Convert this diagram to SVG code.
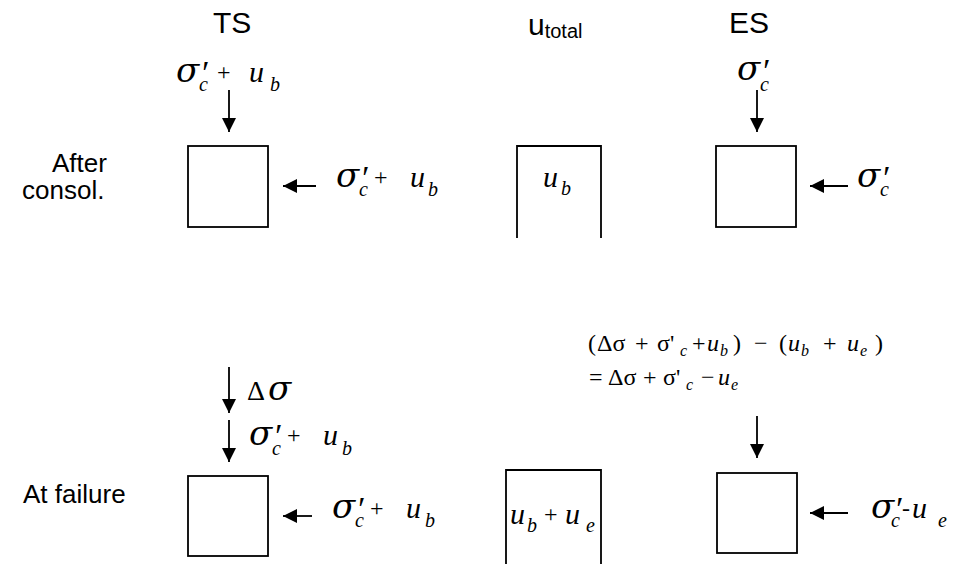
<svg xmlns="http://www.w3.org/2000/svg" width="961" height="564" viewBox="0 0 961 564">
<style>
.box{fill:none;stroke:#000;stroke-width:1.8}
.ln{stroke:#000;stroke-width:1.8;fill:none}
.ttl{font-family:"Liberation Sans",Arial,sans-serif;fill:#000}
.s{font-family:"DejaVu Serif","Liberation Serif",serif;font-style:italic;font-size:34px;fill:#000}
.m{font-family:"Liberation Serif","Times New Roman",serif;font-style:italic;fill:#000}
.r{font-family:"Liberation Serif","Times New Roman",serif;fill:#000}
.pr{font-family:"Liberation Serif","Times New Roman",serif;font-size:34px}
.sub{font-size:20px}
.u{font-size:30px}
.pl{font-family:"Liberation Serif","Times New Roman",serif;font-style:normal;font-size:24px}
</style>
<defs>
<marker id="ah" markerUnits="userSpaceOnUse" markerWidth="16" markerHeight="16" refX="14" refY="7" orient="auto">
<path d="M0,0 L14,7 L0,14 Z" fill="#000"/>
</marker>
</defs>
<rect width="961" height="564" fill="#fff"/>

<g id="titles">
<text class="ttl" x="213" y="33" font-size="30">TS</text>
<text class="ttl" x="528" y="35" font-size="30">u<tspan font-size="20" dy="3">total</tspan></text>
<text class="ttl" x="729" y="33" font-size="30">ES</text>
<text class="ttl" x="52" y="172" font-size="26">After</text>
<text class="ttl" x="22" y="199" font-size="26">consol.</text>
<text class="ttl" x="23" y="503" font-size="26">At failure</text>
</g>

<g id="connectors">
<line class="ln" x1="229" y1="90" x2="229" y2="132" marker-end="url(#ah)"/>
<line class="ln" x1="316" y1="186" x2="283" y2="186" marker-end="url(#ah)"/>
<line class="ln" x1="757" y1="90" x2="757" y2="132" marker-end="url(#ah)"/>
<line class="ln" x1="848" y1="186" x2="810" y2="186" marker-end="url(#ah)"/>
<line class="ln" x1="229" y1="367" x2="229" y2="413" marker-end="url(#ah)"/>
<line class="ln" x1="229" y1="420" x2="229" y2="462" marker-end="url(#ah)"/>
<line class="ln" x1="312" y1="516" x2="283" y2="516" marker-end="url(#ah)"/>
<line class="ln" x1="757" y1="416" x2="757" y2="458" marker-end="url(#ah)"/>
<line class="ln" x1="848" y1="513" x2="810" y2="513" marker-end="url(#ah)"/>
</g>

<g id="ts-consol">
<rect class="box" x="188" y="146" width="80" height="81"/>
<text class="s" x="176" y="82">σ<tspan class="pr" x="200" y="84">′</tspan><tspan class="m sub" x="199" y="91">c</tspan><tspan class="pl" x="217" y="80">+</tspan><tspan class="m u" x="249" y="82">u</tspan><tspan class="m sub" x="270" y="91">b</tspan></text>
<text class="s" x="336" y="187">σ<tspan class="pr" x="360" y="189">′</tspan><tspan class="m sub" x="359" y="196">c</tspan><tspan class="pl" x="374" y="185">+</tspan><tspan class="m u" x="410" y="187">u</tspan><tspan class="m sub" x="428" y="196">b</tspan></text>
</g>

<g id="utotal-consol">
<path class="box" d="M517,238 V146 H601 V238"/>
<text class="m u" x="543" y="187">u<tspan class="sub" x="561" y="195">b</tspan></text>
</g>

<g id="es-consol">
<rect class="box" x="716" y="146" width="80" height="81"/>
<text class="s" x="737" y="80">σ<tspan class="pr" x="761" y="82">′</tspan><tspan class="m sub" x="760" y="91">c</tspan></text>
<text class="s" x="857" y="187">σ<tspan class="pr" x="881" y="189">′</tspan><tspan class="m sub" x="880" y="196">c</tspan></text>
</g>

<g id="ts-failure">
<rect class="box" x="188" y="476" width="80" height="80"/>
<text class="r" x="247" y="400" font-size="28">Δ<tspan class="s" x="268" y="400">σ</tspan></text>
<text class="s" x="249" y="445">σ<tspan class="pr" x="273" y="447">′</tspan><tspan class="m sub" x="272" y="455">c</tspan><tspan class="pl" x="287" y="443">+</tspan><tspan class="m u" x="323" y="445">u</tspan><tspan class="m sub" x="342" y="455">b</tspan></text>
<text class="s" x="332" y="518">σ<tspan class="pr" x="356" y="520">′</tspan><tspan class="m sub" x="355" y="527">c</tspan><tspan class="pl" x="370" y="516">+</tspan><tspan class="m u" x="406" y="518">u</tspan><tspan class="m sub" x="425" y="527">b</tspan></text>
</g>

<g id="utotal-failure">
<path class="box" d="M506,564 V470 H601 V564"/>
<text class="m u" x="510" y="524">u<tspan class="sub" x="527" y="532">b</tspan><tspan class="pl" x="544" y="522">+</tspan><tspan x="565" y="524">u</tspan><tspan class="sub" x="586" y="532">e</tspan></text>
</g>

<g id="es-failure">
<rect class="box" x="717" y="473" width="80" height="80"/>
<text class="s" x="871" y="518">σ<tspan class="pr" x="894" y="520">′</tspan><tspan class="m sub" x="891" y="527">c</tspan><tspan class="pl" x="902" y="516">-</tspan><tspan class="m u" x="912" y="518">u</tspan><tspan class="m sub" x="938" y="527">e</tspan></text>
</g>

<g id="equation">
<text class="r" y="351" font-size="24"><tspan x="588">(</tspan><tspan x="597">Δσ</tspan><tspan x="635">+</tspan><tspan x="657">σ'</tspan><tspan class="m" font-size="16" x="680" y="356">c</tspan><tspan x="692" y="351">+</tspan><tspan class="m" x="707">u</tspan><tspan class="m" font-size="16" x="720" y="356">b</tspan><tspan x="733" y="351">)</tspan><tspan x="754">−</tspan><tspan x="779">(</tspan><tspan class="m" x="788">u</tspan><tspan class="m" font-size="16" x="801" y="356">b</tspan><tspan x="823" y="351">+</tspan><tspan class="m" x="847">u</tspan><tspan class="m" font-size="16" x="860" y="356">e</tspan><tspan x="875" y="351">)</tspan></text>
<text class="r" y="385" font-size="24"><tspan x="589">=</tspan><tspan x="608">Δσ</tspan><tspan x="643">+</tspan><tspan x="663">σ'</tspan><tspan class="m" font-size="16" x="686" y="390">c</tspan><tspan x="701" y="385">−</tspan><tspan class="m" x="718">u</tspan><tspan class="m" font-size="16" x="731" y="390">e</tspan></text>
</g>
</svg>
